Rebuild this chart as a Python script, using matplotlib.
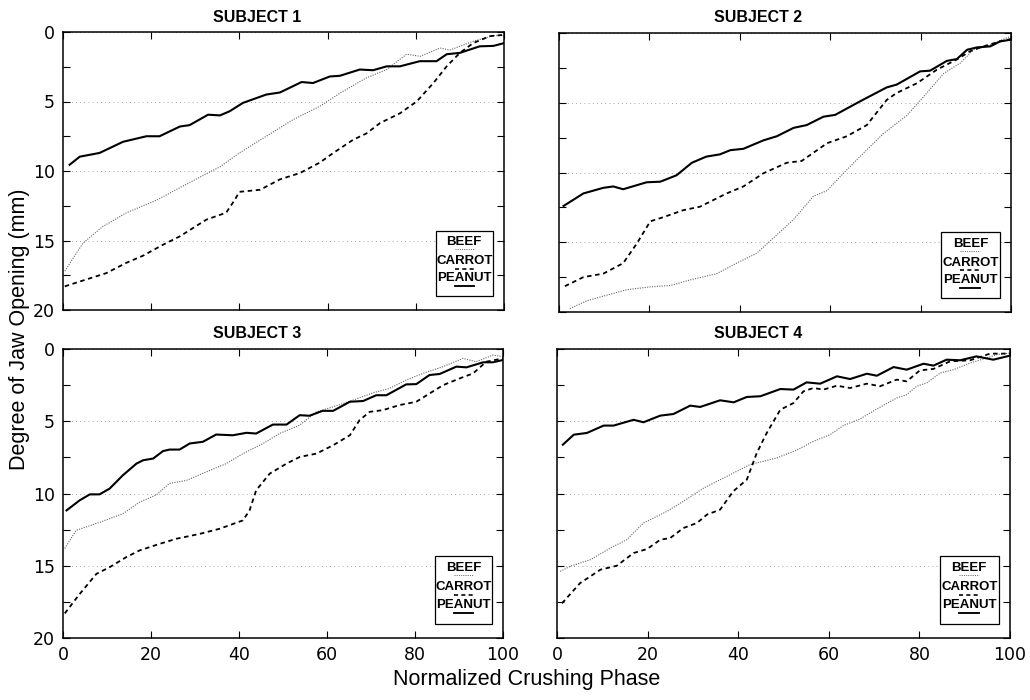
import matplotlib
matplotlib.use("Agg")
import matplotlib.pyplot as plt
from matplotlib.ticker import MultipleLocator

# ---- data: (phase %, jaw opening mm) ----
titles = ["SUBJECT 1", "SUBJECT 2", "SUBJECT 3", "SUBJECT 4"]

# subject 1
s1_peanut_x = [1.5, 3.8, 8.3, 13.6, 18.9, 21.9, 26.5, 28.7, 32.9, 35.6, 37.8, 40.8, 46.1, 49.2, 54.1, 56.7,
               60.5, 62.8, 67.3, 70.3, 73.4, 76.4, 80.9, 84.7, 87, 90, 94.5, 97.6, 100]
s1_peanut_y = [9.55, 8.97, 8.7, 7.9, 7.5, 7.5, 6.8, 6.7, 5.95, 6.0, 5.7, 5.1, 4.5, 4.35, 3.6, 3.67,
               3.2, 3.15, 2.7, 2.75, 2.47, 2.47, 2.1, 2.1, 1.6, 1.5, 1.03, 1.0, 0.8]
s1_beef_x = [0.4, 4.5, 9, 14.4, 21.2, 26.5, 32.5, 35.6, 40, 46.1, 52.2, 58.2, 62.8, 68.8, 73.4, 77.9,
             81, 85.5, 87.7, 93, 97.6, 100]
s1_beef_y = [17.2, 15.2, 14.0, 13.0, 12.1, 11.2, 10.2, 9.7, 8.7, 7.5, 6.3, 5.35, 4.4, 3.3, 2.7, 1.6,
             1.75, 1.15, 1.3, 0.67, 0.26, 0.26]
s1_carrot_x = [0.4, 5.3, 9.8, 14.4, 18.1, 22.7, 26.5, 32.5, 37, 38.9, 40, 44.7, 49.2, 53.7, 58.2, 61.3,
               65.8, 68.8, 71.9, 76.4, 80.2, 84, 87, 90, 93, 96.8, 100]
s1_carrot_y = [18.3, 17.8, 17.35, 16.6, 16.1, 15.3, 14.7, 13.5, 13.0, 12.1, 11.5, 11.35, 10.6, 10.15, 9.4, 8.7,
               7.75, 7.3, 6.55, 5.85, 5.0, 3.67, 2.47, 1.5, 0.8, 0.3, 0.2]

# subject 2
s2_peanut_x = [1, 5.4, 9.8, 12, 14.2, 19.4, 22.4, 26, 29.4, 32.6, 35.6, 37.9, 40.8, 45.2, 48.2, 51.9,
               54.8, 58.5, 61.1, 66.6, 72.5, 74.7, 79.9, 82.1, 85.8, 88, 90.3, 92.5, 95.4, 97.6, 100]
s2_peanut_y = [12.4, 11.5, 11.1, 11.0, 11.2, 10.7, 10.66, 10.2, 9.3, 8.86, 8.7, 8.4, 8.3, 7.7, 7.4, 6.8,
               6.6, 6.0, 5.87, 4.9, 3.9, 3.7, 2.75, 2.7, 2.0, 1.87, 1.2, 1.03, 0.96, 0.6, 0.48]
s2_carrot_x = [1.3, 5.4, 9.8, 14.2, 17.2, 20.2, 23.1, 27.5, 31.2, 37.1, 40.8, 45.2, 50.4, 53.7, 59.3, 63.7,
               68.1, 72.5, 74.7, 79.2, 83.6, 88, 91, 93.9, 97.6, 100]
s2_carrot_y = [18.15, 17.5, 17.25, 16.5, 15.1, 13.5, 13.2, 12.7, 12.45, 11.5, 11.0, 10.06, 9.3, 9.17, 7.9, 7.4,
               6.6, 4.8, 4.3, 3.6, 2.63, 1.9, 1.3, 0.96, 0.6, 0.43]
s2_beef_x = [2.4, 6.1, 10.5, 15, 20.2, 24.6, 29, 34.9, 39.3, 43.7, 47.4, 51.8, 56.3, 59.3, 62.9, 67.4,
             71.8, 77, 80.7, 85.1, 88.8, 91.7, 94.7, 98.4, 100]
s2_beef_y = [19.76, 19.2, 18.8, 18.4, 18.2, 18.1, 17.7, 17.25, 16.5, 15.8, 14.7, 13.4, 11.7, 11.3, 10.06, 8.6,
             7.2, 5.9, 4.55, 2.9, 2.15, 1.2, 0.96, 0.43, 0.24]

# subject 3
s3_peanut_x = [0.8, 3.8, 6.1, 8.3, 10.6, 13.6, 16.7, 18.2, 20.5, 22.7, 24.2, 26.5, 28.8, 31.8, 34.8, 38.6,
               41.7, 43.9, 47.7, 50.8, 53.8, 56, 59, 61.4, 65.2, 68.2, 71.2, 73.5, 78, 80.3, 83.3, 85.6,
               89.4, 91.7, 95.5, 97.7, 100]
s3_peanut_y = [11.17, 10.47, 10.06, 10.06, 9.66, 8.74, 7.93, 7.7, 7.58, 7.07, 6.96, 6.96, 6.54, 6.42, 5.92, 5.97,
               5.8, 5.85, 5.23, 5.23, 4.58, 4.62, 4.28, 4.28, 3.65, 3.6, 3.2, 3.2, 2.45, 2.43, 1.8, 1.73,
               1.22, 1.27, 0.92, 0.92, 0.76]
s3_beef_x = [0.4, 3, 8.3, 13.6, 17.4, 21.2, 24.2, 28, 32.6, 37.1, 40.9, 45.5, 49.2, 53.8, 57.6, 61.4,
             65.9, 70.5, 74.2, 78, 81.8, 86.4, 90.9, 93.9, 97.7, 100]
s3_beef_y = [13.8, 12.55, 12.0, 11.4, 10.6, 10.1, 9.3, 9.1, 8.5, 7.93, 7.24, 6.54, 5.85, 5.27, 4.35, 4.0,
             3.54, 3.03, 2.73, 2.15, 1.69, 1.22, 0.65, 0.88, 0.42, 0.53]
s3_carrot_x = [0.4, 3.8, 7.6, 10.6, 14.4, 17.4, 22, 25.8, 31, 35.6, 40.9, 42.4, 43.9, 47, 50.8, 53.8,
               57.6, 61.4, 65.2, 67.4, 69.7, 72.7, 76.5, 80.3, 83.3, 86.4, 90.2, 93.2, 96.2, 100]
s3_carrot_y = [18.3, 16.95, 15.56, 15.1, 14.4, 13.94, 13.48, 13.13, 12.8, 12.44, 11.86, 11.17, 9.78, 8.62, 7.93, 7.47,
               7.24, 6.66, 5.97, 4.92, 4.35, 4.23, 3.88, 3.65, 3.08, 2.5, 2.03, 1.69, 0.88, 0.65]

# subject 4
s4_peanut_x = [1.3, 3.7, 6.6, 10.3, 12.5, 16.9, 19.1, 22.8, 25.7, 29.4, 31.6, 36, 39, 41.9, 44.9, 49.3,
               52.2, 55.1, 58.1, 61.8, 64.7, 68.4, 70.6, 74.3, 77.2, 80.9, 83.1, 86, 89, 92.6, 96.3, 100]
s4_peanut_y = [6.62, 5.93, 5.81, 5.3, 5.3, 4.9, 5.07, 4.61, 4.5, 3.92, 4.01, 3.55, 3.69, 3.32, 3.27, 2.77,
               2.81, 2.31, 2.4, 1.89, 2.08, 1.71, 1.85, 1.25, 1.43, 1.02, 1.15, 0.74, 0.78, 0.51, 0.74, 0.46]
s4_carrot_x = [1.1, 5.1, 9.6, 13.2, 16.9, 19.9, 22.8, 25, 27.9, 30.9, 33.1, 36, 38.9, 41.9, 44.1, 46.3,
               49.3, 52.2, 54.4, 56.6, 58.8, 61.8, 64.7, 68.4, 71.3, 75, 77.2, 80.1, 83.1, 86.8, 91.2, 95.6, 100]
s4_carrot_y = [17.6, 16.2, 15.27, 15.0, 14.12, 13.84, 13.2, 13.08, 12.39, 12.04, 11.46, 11.12, 9.85, 9.04, 7.2, 5.81,
               4.2, 3.74, 2.93, 2.7, 2.81, 2.54, 2.7, 2.4, 2.58, 2.12, 2.24, 1.48, 1.38, 0.85, 0.78, 0.32, 0.32]
s4_beef_x = [0.7, 2.9, 7.4, 11.8, 15.4, 19.1, 24.3, 27.9, 32.4, 37.5, 42.6, 48.5, 52.9, 56.6, 60.3, 63.2,
             66.9, 70.6, 75, 77.2, 79.4, 81.6, 84.6, 87.5, 91.2, 94.1, 97.1, 100]
s4_beef_y = [15.39, 15.04, 14.58, 13.77, 13.2, 12.04, 11.23, 10.54, 9.62, 8.81, 8.0, 7.54, 7.0, 6.39, 5.93, 5.3,
             4.84, 4.15, 3.39, 3.16, 2.58, 2.35, 1.66, 1.43, 0.97, 0.69, 0.39, 0.28]

subjects = [
    (s1_beef_x, s1_beef_y, s1_carrot_x, s1_carrot_y, s1_peanut_x, s1_peanut_y),
    (s2_beef_x, s2_beef_y, s2_carrot_x, s2_carrot_y, s2_peanut_x, s2_peanut_y),
    (s3_beef_x, s3_beef_y, s3_carrot_x, s3_carrot_y, s3_peanut_x, s3_peanut_y),
    (s4_beef_x, s4_beef_y, s4_carrot_x, s4_carrot_y, s4_peanut_x, s4_peanut_y),
]
legend_labels = ["BEEF", "CARROT", "PEANUT"]

#%% styles
beef_style = dict(color="#666666", lw=0.8, linestyle=(0, (1, 1.2)))
carrot_style = dict(color="black", lw=1.3, linestyle=(0, (2.5, 2)))
peanut_style = dict(color="black", lw=1.5, linestyle="-")
styles = [beef_style, carrot_style, peanut_style]

plt.rcParams["font.family"] = ["Liberation Sans", "DejaVu Sans"]

fig = plt.figure(figsize=(10.3, 7), dpi=100)
W, H = 1030, 700
# axes boxes in pixels: left, right, top, bottom
boxes = [(63, 504, 32, 310), (559, 1011, 33, 312), (63, 503, 349, 638), (557, 1010, 349, 638)]
title_pos = [(257, 17), (758, 17), (257, 333), (758, 333)]

for i, (l, r, t, b) in enumerate(boxes):
    ax = fig.add_axes([l / W, 1 - b / H, (r - l) / W, (b - t) / H])
    bx, by, cx, cy, px, py = subjects[i]
    ax.plot(bx, by, **beef_style)
    ax.plot(cx, cy, **carrot_style)
    ax.plot(px, py, **peanut_style)

    ax.set_xlim(0, 100)
    ax.set_ylim(20, 0)
    ax.xaxis.set_major_locator(MultipleLocator(20))
    ax.yaxis.set_major_locator(MultipleLocator(5))
    ax.yaxis.set_minor_locator(MultipleLocator(2.5))
    ax.tick_params(which="both", direction="in", top=True, right=True, length=5, width=0.8)
    ax.tick_params(labelsize=12.5, pad=6)
    for lab in ax.get_xticklabels() + ax.get_yticklabels():
        lab.set_family("DejaVu Sans")
    if i % 2 == 1:
        ax.tick_params(labelleft=False)
    if i < 2:
        ax.tick_params(labelbottom=False)
    ax.yaxis.grid(True, which="major", color="#888888", lw=0.6, linestyle=(0, (1, 4)))
    for sp in ax.spines.values():
        sp.set_linewidth(1.1)

    # hand-made legend box: labels with short line samples underneath
    x0, x1, y0, y1 = 0.845, 0.975, 0.05, 0.285
    ax.add_patch(plt.Rectangle((x0, y0), x1 - x0, y1 - y0, transform=ax.transAxes,
                               fill=True, facecolor="white", edgecolor="black", lw=0.9, zorder=5))
    xc = (x0 + x1) / 2
    text_y = [0.243, 0.175, 0.115]
    line_y = [0.219, 0.149, 0.086]
    for lab, st, ty, ly in zip(legend_labels, styles, text_y, line_y):
        ax.text(xc, ty, lab, transform=ax.transAxes, ha="center", va="center",
                fontsize=9.5, fontweight="bold", zorder=6)
        ax.plot([xc - 0.022, xc + 0.022], [ly, ly], transform=ax.transAxes, zorder=6,
                **{**st, "lw": st["lw"] * 0.9})

    tx, ty = title_pos[i]
    fig.text(tx / W, 1 - ty / H, titles[i], ha="center", va="center", fontsize=11.5, fontweight="bold")

fig.text(20 / W, 1 - 329 / H, "Degree of Jaw Opening (mm)", rotation=90, ha="center", va="center", fontsize=15.5)
fig.text(527 / W, 1 - 680 / H, "Normalized Crushing Phase", ha="center", va="center", fontsize=15.5)

fig.savefig("out.png", dpi=100)
